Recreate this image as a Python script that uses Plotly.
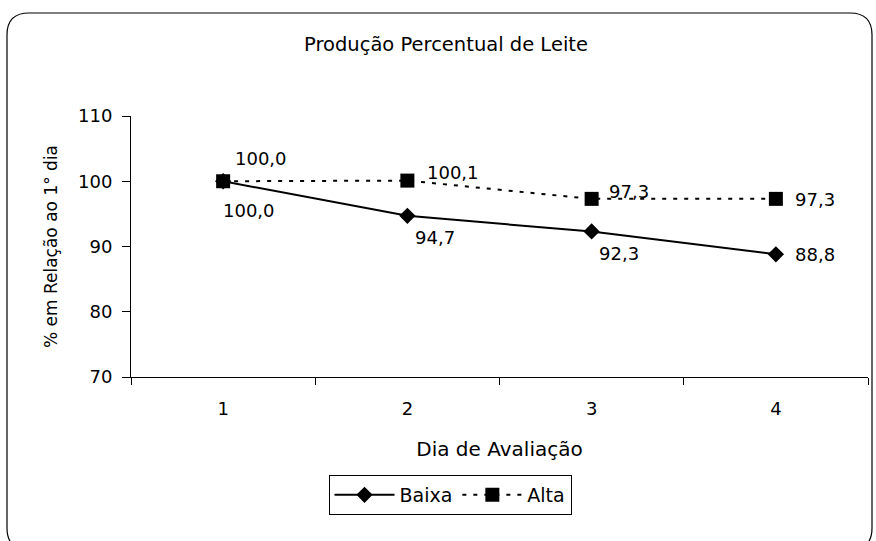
import plotly.graph_objects as go

# Dados
dias = ["1", "2", "3", "4"]
baixa = [100.0, 94.7, 92.3, 88.8]
alta = [100.0, 100.1, 97.3, 97.3]

W, H = 876, 541
L, R, T, B = 131, 8, 116, 164
PW, PH = W - L - R, H - T - B

FONT = "DejaVu Sans, Arial, sans-serif"

# Deslocamento (px) dos rótulos de valor em relação ao ponto
baixa_shift = [(-2, -29), (6, -22), (5, -22), (17, 0)]
alta_shift = [(10, 23), (18, 8), (15, 7), (17, -1)]


def fmt(v):
    return f"{v:.1f}".replace(".", ",")


def px(x):
    return (x - L) / PW


def py(y):
    return (H - B - y) / PH


fig = go.Figure()

fig.add_trace(go.Scatter(
    x=dias, y=baixa, name="Baixa", mode="lines+markers",
    line=dict(color="black", width=2),
    marker=dict(symbol="diamond", size=12.5, color="black"),
    cliponaxis=False,
))

fig.add_trace(go.Scatter(
    x=dias, y=alta, name="Alta", mode="lines+markers",
    line=dict(color="black", width=2, dash="4px,7px"),
    marker=dict(symbol="square", size=14, color="black"),
    cliponaxis=False,
))

# Rótulos de valor (x = posição da categoria no eixo)
for serie, shifts in ((baixa, baixa_shift), (alta, alta_shift)):
    for i, (v, (dx, dy)) in enumerate(zip(serie, shifts)):
        fig.add_annotation(
            x=i, y=v, text=fmt(v), showarrow=False,
            xanchor="left", yanchor="middle", xshift=dx, yshift=dy,
            font=dict(family=FONT, size=18, color="black"),
        )

# Moldura arredondada do gráfico
x0, y0, x1, y1, r = 7, 13, 872, 550, 22
path = (
    f"M {px(x0)},{py(y0 + r)} Q {px(x0)},{py(y0)} {px(x0 + r)},{py(y0)} "
    f"L {px(x1 - r)},{py(y0)} Q {px(x1)},{py(y0)} {px(x1)},{py(y0 + r)} "
    f"L {px(x1)},{py(y1 - r)} Q {px(x1)},{py(y1)} {px(x1 - r)},{py(y1)} "
    f"L {px(x0 + r)},{py(y1)} Q {px(x0)},{py(y1)} {px(x0)},{py(y1 - r)} Z"
)
fig.add_shape(type="path", path=path, xref="paper", yref="paper",
              line=dict(color="black", width=1.2), layer="below")

fig.update_layout(
    width=W, height=H,
    margin=dict(l=L, r=R, t=T, b=B),
    paper_bgcolor="white", plot_bgcolor="white",
    font=dict(family=FONT, size=18, color="black"),
    title=dict(text="Produção Percentual de Leite", x=px(446), xref="paper",
               xanchor="center", y=1 - 44 / H, yanchor="middle",
               font=dict(family=FONT, size=19.5, color="black")),
    showlegend=True,
    legend=dict(orientation="h", x=px(450), xanchor="center",
                y=py(495), yanchor="middle",
                bordercolor="black", borderwidth=1, bgcolor="white",
                font=dict(family=FONT, size=19, color="black"),
                itemwidth=60, tracegroupgap=0),
    xaxis=dict(
        type="category", tickson="boundaries", ticks="outside", ticklen=7,
        tickcolor="black", showline=True, linecolor="black", linewidth=1,
        showgrid=False, zeroline=False, ticklabelstandoff=15,
        tickfont=dict(family=FONT, size=18),
        title=dict(text="Dia de Avaliação", standoff=24,
                   font=dict(family=FONT, size=20)),
        range=[-0.5, 3.5],
    ),
    yaxis=dict(
        range=[70, 110], dtick=10, ticks="outside", ticklen=8,
        tickcolor="black", showline=True, linecolor="black", linewidth=1,
        showgrid=False, zeroline=False, ticklabelstandoff=6,
        tickfont=dict(family=FONT, size=18),
        title=dict(text="% em Relação ao 1° dia", standoff=16,
                   font=dict(family=FONT, size=17)),
    ),
)

fig.write_html("out.html")
